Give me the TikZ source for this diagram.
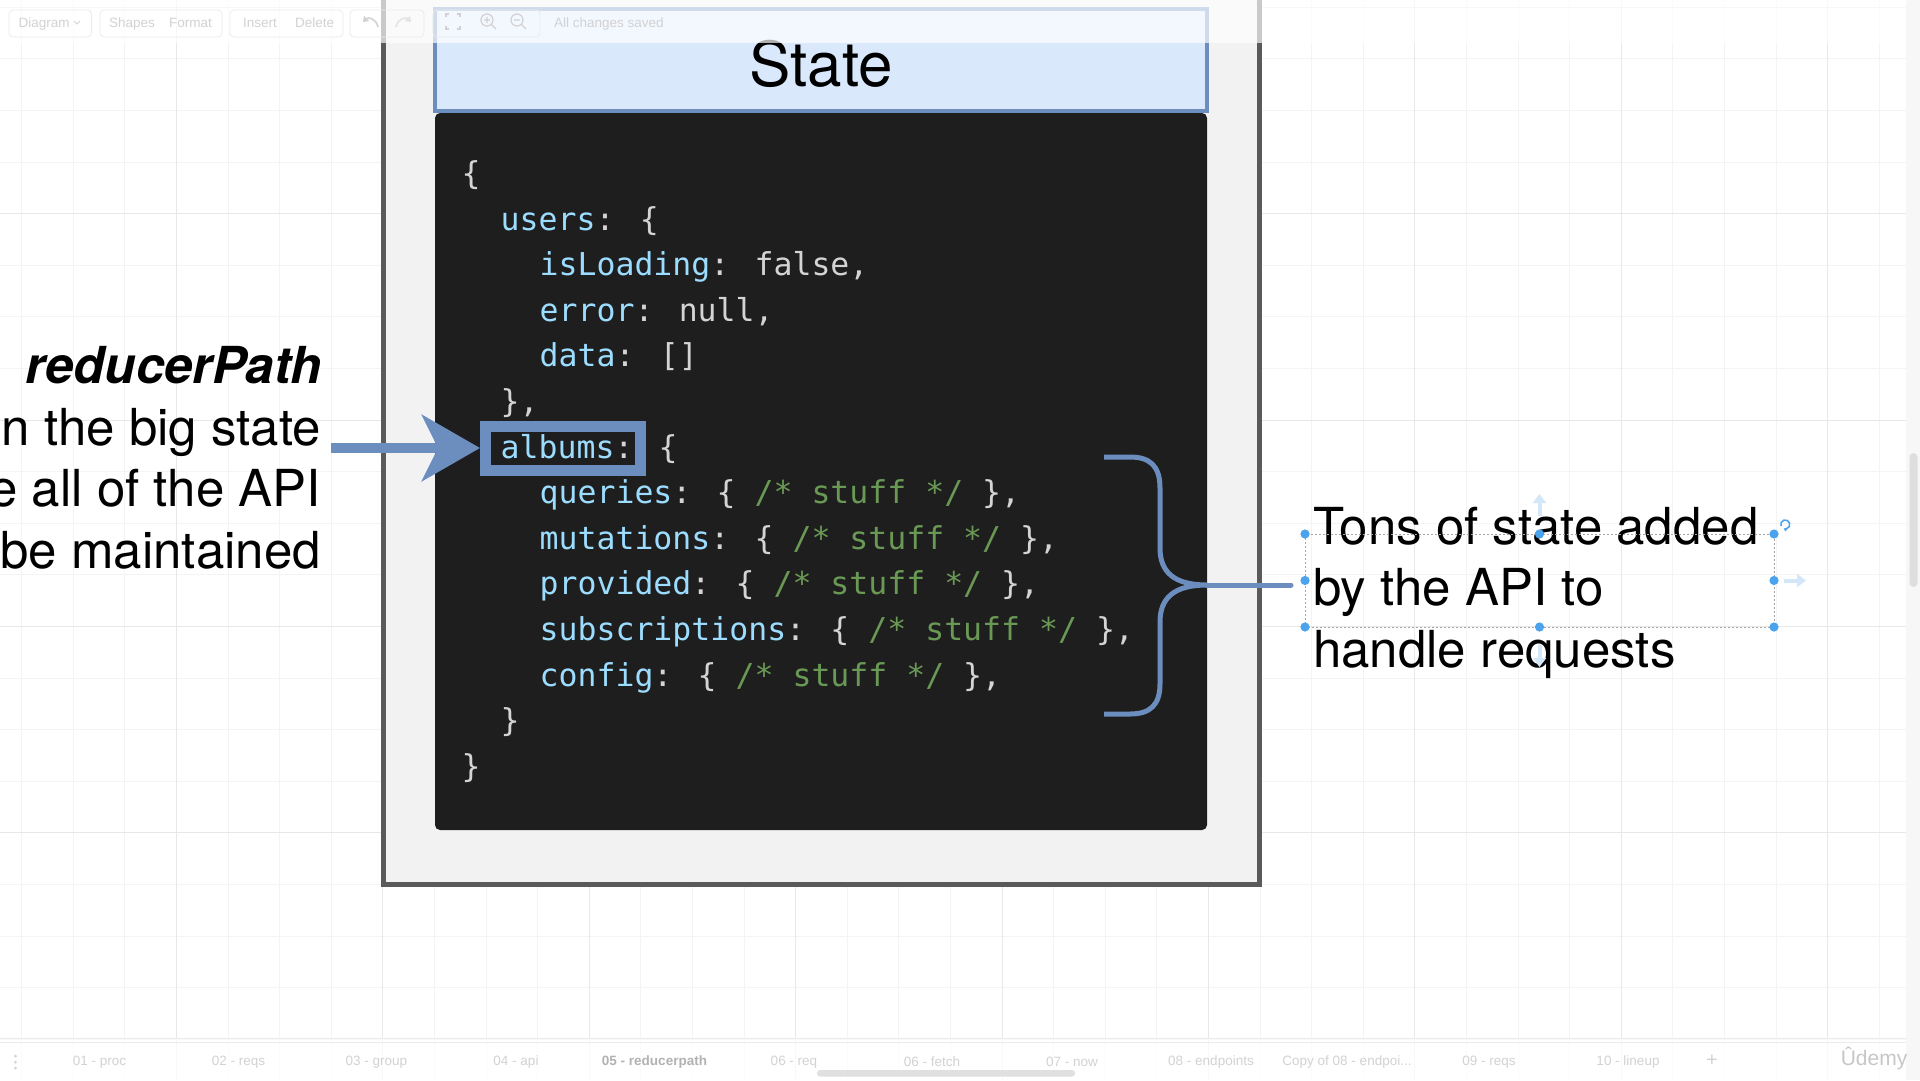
\documentclass[tikz,border=0pt]{standalone}
\usepackage{fontspec}
\setmainfont{TeX Gyre Heros}
\newfontfamily\codefont{DejaVu Sans Mono}
\newfontfamily\uifont{Liberation Sans}
\usetikzlibrary{arrows.meta}
\definecolor{framegray}{HTML}{5A5A5A}
\definecolor{framefill}{HTML}{F2F2F2}
\definecolor{hdrfill}{HTML}{DAE8FC}
\definecolor{accent}{HTML}{6C8EBF}
\definecolor{codebg}{HTML}{1E1E1E}
\definecolor{codekey}{HTML}{9CDCFE}
\definecolor{codetxt}{HTML}{D4D4D4}
\definecolor{codecmt}{HTML}{6A9955}
\definecolor{gridminor}{HTML}{F4F4F4}
\definecolor{gridmajor}{HTML}{E8E8E8}
\definecolor{handle}{HTML}{4AA3EC}
\definecolor{hover}{HTML}{D3E7F9}
\definecolor{uitext}{HTML}{D2D2D2}
\newcommand\ckey[1]{\textcolor{codekey}{#1}}
\newcommand\ccmt[1]{\textcolor{codecmt}{#1}}
\begin{document}
\begin{tikzpicture}[x=1pt,y=-1pt,
  codeline/.style={anchor=base west, inner sep=0pt, font=\codefont\fontsize{31.5}{38}\selectfont, text=codetxt},
  bigtext/.style={inner sep=0pt, font=\fontsize{51}{62}\selectfont, text=black},
  braceline/.style={draw=accent, line width=5pt},
  bigarrow/.style={draw=accent, line width=10pt, -{Stealth[length=58pt,width=66pt,inset=16pt]}},
  uilabel/.style={inner sep=0pt, font=\uifont\fontsize{13.5}{16}\selectfont, text=uitext},
  tablabel/.style={inner sep=0pt, font=\uifont\fontsize{13.5}{16}\selectfont, text=uitext},
  uibox/.style={draw=uitext!45, line width=0.8pt, rounded corners=4pt},
  handledot/.style={fill=handle},
  hoverarrow/.style={draw=hover, line width=4pt, -{Triangle[length=9pt,width=13pt]}}
]
\useasboundingbox (0,0) rectangle (1920,1080);
\fill[white] (0,0) rectangle (1920,1080);
% grid
\foreach \i in {0,...,37} {\draw[gridminor, line width=1pt] ({21.7+\i*51.6},0) -- ({21.7+\i*51.6},1080);}
\foreach \j in {0,...,20} {\draw[gridminor, line width=1pt] (0,{7.2+\j*51.6}) -- (1920,{7.2+\j*51.6});}
\foreach \i in {-1,...,8} {\draw[gridmajor, line width=1pt] ({176.5+\i*206.4},0) -- ({176.5+\i*206.4},1080);}
\foreach \j in {0,...,5} {\draw[gridmajor, line width=1pt] (0,{7.2+\j*206.4}) -- (1920,{7.2+\j*206.4});}

% outer frame
\node[draw=framegray, fill=framefill, line width=5pt, minimum width=875.5pt, minimum height=914pt, inner sep=0pt] (frame) at (821.25,427.5) {};
% header
\node[draw=accent, fill=hdrfill, line width=3.5pt, minimum width=772pt, minimum height=102pt, inner sep=0pt] (header) at (821,60) {};
\node[inner sep=0pt, anchor=base, font=\fontsize{62}{74}\selectfont] (statetitle) at (821,86) {State};
% code panel
\node[fill=codebg, rounded corners=5pt, minimum width=772pt, minimum height=717pt, inner sep=0pt] (codepanel) at (821,471.5) {};

% code lines
\node[codeline] (l0)  at (461.5,184.4) {\{};
\node[codeline] (l1)  at (500.5,230.0) {\ckey{users}: \{};
\node[codeline] (l2)  at (539.5,275.6) {\ckey{isLoading}: false,};
\node[codeline] (l3)  at (539.5,321.2) {\ckey{error}: null,};
\node[codeline] (l4)  at (539.5,366.8) {\ckey{data}: []};
\node[codeline] (l5)  at (500.5,412.4) {\},};
\node[codeline] (l6)  at (500.5,458.0) {\ckey{albums}: \{};
\node[codeline] (l7)  at (539.5,503.6) {\ckey{queries}: \{ \ccmt{/* stuff */} \},};
\node[codeline] (l8)  at (539.5,549.2) {\ckey{mutations}: \{ \ccmt{/* stuff */} \},};
\node[codeline] (l9)  at (539.5,594.8) {\ckey{provided}: \{ \ccmt{/* stuff */} \},};
\node[codeline] (l10) at (539.5,640.4) {\ckey{subscriptions}: \{ \ccmt{/* stuff */} \},};
\node[codeline] (l11) at (539.5,686.0) {\ckey{config}: \{ \ccmt{/* stuff */} \},};
\node[codeline] (l12) at (500.5,731.6) {\}};
\node[codeline] (l13) at (461.5,777.2) {\}};

% albums highlight box
\node[draw=accent, line width=11pt, minimum width=155pt, minimum height=44pt, inner sep=0pt] (albumsbox) at (563,448) {};

% left text
\node[bigtext, anchor=base east] (rp1) at (322,383.5) {\textbf{\textit{reducerPath}}};
\node[bigtext, anchor=base east] (rp2) at (321,445) {n the big state};
\node[bigtext, anchor=base east] (rp3) at (321,506.5) {e all of the API};
\node[bigtext, anchor=base east] (rp4) at (321,568) {be maintained};

% arrow to albums
\coordinate (arrowstart) at (331,448);
\draw[bigarrow] (arrowstart) -- (albumsbox.west);

% right text
\node[bigtext, anchor=base west, inner xsep=22pt] (tons1) at (1291,544) {Tons of state added};
\node[bigtext, anchor=base west, inner xsep=22pt] (tons2) at (1291,605.5) {by the API to};
\node[bigtext, anchor=base west, inner xsep=22pt] (tons3) at (1291,667) {handle requests};

% brace
\coordinate (bt) at (1104,457);
\coordinate (bb) at (1104,714);
\coordinate (bm) at (1207,585);
\draw[braceline] (bt) -- (1130,457) .. controls (1150,457) and (1160,466) .. (1160,488)
  -- (1160,548) .. controls (1160,572) and (1174,585) .. (bm)
  .. controls (1174,585) and (1160,598) .. (1160,622)
  -- (1160,684) .. controls (1160,705) and (1150,714) .. (1130,714) -- (bb);
\draw[braceline, line cap=round] (bm) -- (bm -| tons2.west);

% selection handles
\draw[draw=black!35, line width=0.8pt, dash pattern=on 2pt off 2pt] (1305,534) rectangle (1774,627);
\foreach \p in {(1305,534),(1539.5,534),(1774,534),(1305,580.5),(1774,580.5),(1305,627),(1539.5,627),(1774,627)}
  {\fill[handledot] \p circle[radius=4.6pt];}
\draw[hoverarrow] (1539.5,516) -- (1539.5,494);
\draw[hoverarrow] (1784,580.5) -- (1806,580.5);
\draw[hoverarrow] (1539.5,645) -- (1539.5,667);
\draw[handle, line width=1.6pt, -{Triangle[length=3pt,width=4pt]}] (1781,526) arc[start angle=200, end angle=-110, radius=4.5pt];

% right scroll strip
\fill[black!3] (1906,0) rectangle (1920,1080);
\fill[black!13, rounded corners=4pt] (1909.5,453) rectangle (1917.5,587);

% top toolbar overlay
\fill[white, opacity=0.68] (0,0) rectangle (1906,43);
\draw[uibox] (9,10) rectangle (91.5,37);
\draw[uibox] (100,10) rectangle (222,37);
\draw[uibox] (230,10) rectangle (343,37);
\draw[uibox] (350,10) rectangle (424,37);
\draw[uibox] (433,10) rectangle (540,37);
\node[uilabel, anchor=base west] (tbdiagram) at (18.5,27.5) {Diagram};
\draw[uitext, line width=0.8pt] (74,21) -- (77,24) -- (80,21);
\node[uilabel, anchor=base west] (tbshapes) at (109,27.5) {Shapes};
\node[uilabel, anchor=base west] (tbformat) at (169,27.5) {Format};
\node[uilabel, anchor=base west] (tbinsert) at (243,27.5) {Insert};
\node[uilabel, anchor=base west] (tbdelete) at (295,27.5) {Delete};
\node[uilabel, anchor=base west] (tbsaved) at (554,27.5) {All changes saved};
\draw[uitext, line width=1.6pt, -{Triangle[length=5pt,width=7pt]}] (378,27) .. controls (376,18) and (368,17) .. (363,22);
\draw[uitext!60, line width=1.6pt, -{Triangle[length=5pt,width=7pt]}] (396,27) .. controls (398,18) and (406,17) .. (411,22);
\draw[uitext, line width=1.2pt] (446,17) -- (446,14) -- (449,14) (457,14) -- (460,14) -- (460,17) (460,26) -- (460,29) -- (457,29) (449,29) -- (446,29) -- (446,26);
\draw[uitext, line width=1.2pt] (487,20) circle[radius=6pt] (491.5,24.5) -- (496,29) (484,20) -- (490,20) (487,17) -- (487,23);
\draw[uitext, line width=1.2pt] (517,20) circle[radius=6pt] (521.5,24.5) -- (526,29) (514,20) -- (520,20);

% bottom tab bar overlay
\fill[white, opacity=0.7] (0,1038) rectangle (1906,1080);
\draw[black!8, line width=1pt] (0,1038.5) -- (1906,1038.5);
\draw[black!8, line width=1pt] (0,1042.5) -- (1906,1042.5);
\foreach \yy in {1056,1062,1068} {\fill[uitext] (15.5,\yy) circle[radius=1.5pt];}
\node[tablabel] (tab01) at (99.5,1062) {01 - proc};
\node[tablabel] (tab02) at (238.5,1062) {02 - reqs};
\node[tablabel] (tab03) at (376.5,1062) {03 - group};
\node[tablabel] (tab04) at (516,1062) {04 - api};
\node[tablabel, text=black!30, font=\uifont\bfseries\fontsize{13.5}{16}\selectfont] (tab05) at (654.5,1062) {05 - reducerpath};
\node[tablabel] (tab06) at (794,1062) {06 - req};
\node[tablabel] (tab06b) at (932,1062) {06 - fetch};
\node[tablabel] (tab07) at (1072,1062) {07 - now};
\node[tablabel] (tab08) at (1211,1062) {08 - endpoints};
\node[tablabel] (tab08c) at (1347,1062) {Copy of 08 - endpoi...};
\node[tablabel] (tab09) at (1489,1062) {09 - reqs};
\node[tablabel] (tab10) at (1628,1062) {10 - lineup};
\node[tablabel, font=\uifont\fontsize{20}{22}\selectfont] (tabplus) at (1712,1061) {+};
\fill[black!12, rounded corners=3pt] (817,1070) rectangle (1075,1076.5);
\node[inner sep=0pt, font=\uifont\fontsize{21}{24}\selectfont, text=black!22] (udemy) at (1874,1058) {Ûdemy};
\end{tikzpicture}
\end{document}
